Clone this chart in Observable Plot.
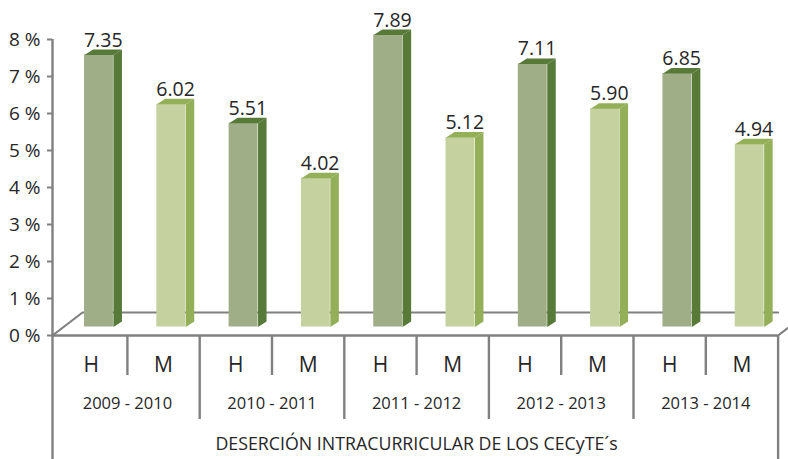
<!DOCTYPE html>
<html><head><meta charset="utf-8">
<script src="https://cdn.jsdelivr.net/npm/d3@7"></script>
<script src="https://cdn.jsdelivr.net/npm/@observablehq/plot@0.6"></script>
<style>html,body{margin:0;padding:0;background:#fff;overflow:hidden}</style>
</head><body><div id="chart"></div>
<script>
// ---- data ----
const years = ["2009 - 2010", "2010 - 2011", "2011 - 2012", "2012 - 2013", "2013 - 2014"];
const sexes = ["H", "M"];
const hombres = [7.35, 5.51, 7.89, 7.11, 6.85];
const mujeres = [6.02, 4.02, 5.12, 5.90, 4.94];
const yTicks = [0, 1, 2, 3, 4, 5, 6, 7, 8];
const yTickLabels = ["0 %", "1 %", "2 %", "3 %", "4 %", "5 %", "6 %", "7 %", "8 %"];
const axisTitle = "DESERCIÓN INTRACURRICULAR DE LOS CECyTE´s";

// ---- style / layout ----
const colors = {
  H: {front: "#9fae87", side: "#587a39"},
  M: {front: "#c5d2a0", side: "#93af57"}
};
const axisColor = "#808080";
const textColor = "#262626";
const xRange = [54.6, 777.6], yRange = [335, 39];
const pxPerX = (xRange[1] - xRange[0]) / 10;
const pxPerY = (yRange[0] - yRange[1]) / 8;
const px = p => p / pxPerX, py = p => p / pxPerY;
const FACE_L = 0.407, FACE_R = 0.807;
const DX = px(8.5), DY = py(5.5), BASE = py(8.5);
const AXIS_X = px(-2.6);
const FLOOR_DX = px(30), FLOOR_DY = py(23);

const bars = years.flatMap((yr, j) => sexes.map((s, k) => {
  const value = (k ? mujeres : hombres)[j];
  const slot = 2 * j + k;
  return {year: yr, sex: s, slot, value, xl: slot + FACE_L, xr: slot + FACE_R, bot: BASE, top: BASE + value};
}));

function polys(sex, kind) {
  const out = [];
  bars.filter(b => b.sex === sex).forEach(b => {
    const pts = kind === "side"
      ? [[b.xr, b.bot], [b.xr, b.top], [b.xr + DX, b.top + DY], [b.xr + DX, b.bot + DY]]
      : [[b.xl, b.top], [b.xl + DX, b.top + DY], [b.xr + DX, b.top + DY], [b.xr, b.top]];
    pts.forEach(([x, y]) => out.push({id: b.slot + kind, x, y}));
  });
  return out;
}

const floorBack = [
  {x: AXIS_X, y: 0}, {x: AXIS_X + FLOOR_DX, y: FLOOR_DY}, {x: 10, y: FLOOR_DY}
];
const floorRight = [{x: 10, y: 0}, {x: 10 + FLOOR_DX, y: FLOOR_DY}];
const BOTTOM = py(-124);
const seps = d3.range(1, 10).map(i => ({x: i, y2: i % 2 ? py(-40) : py(-84)}));

const marks = [
  // floor
  Plot.line(floorBack, {x: "x", y: "y", stroke: axisColor, strokeWidth: 2.2}),
  Plot.line(floorRight, {x: "x", y: "y", stroke: axisColor, strokeWidth: 2.2}),
  Plot.ruleY([0], {x1: () => AXIS_X, x2: () => 10, stroke: axisColor, strokeWidth: 2.4}),
  // y axis
  Plot.ruleX([AXIS_X], {y1: () => BOTTOM, y2: () => 8, stroke: axisColor, strokeWidth: 2.4}),
  Plot.ruleX([10], {y1: () => BOTTOM, y2: () => 0, stroke: axisColor, strokeWidth: 2.4}),
  Plot.ruleY(yTicks, {x1: () => AXIS_X - px(5), x2: () => AXIS_X, y: d => d, stroke: axisColor, strokeWidth: 2}),
  Plot.text(yTicks, {x: () => AXIS_X, y: d => d, text: (d, i) => yTickLabels[i], textAnchor: "end", dx: -12, fill: textColor, fontSize: 19}),
  // category separators
  Plot.ruleX(seps, {x: "x", y1: () => 0, y2: "y2", stroke: axisColor, strokeWidth: 2.4}),
  Plot.text(bars, {x: d => d.slot + 0.5, y: () => py(-30), text: "sex", fill: textColor, fontSize: 21}),
  Plot.text(years, {x: (d, i) => 2 * i + 1, y: () => py(-68), text: d => d, fill: textColor, fontSize: 16.5}),
  Plot.text([axisTitle], {x: () => 5, y: () => py(-109), text: d => d, fill: textColor, fontSize: 17.8}),
];
for (const s of sexes) {
  marks.push(
    Plot.rect(bars.filter(b => b.sex === s), {x1: "xl", x2: "xr", y1: "bot", y2: "top", fill: colors[s].front}),
    Plot.line(polys(s, "side"), {x: "x", y: "y", z: "id", fill: colors[s].side, stroke: "none"}),
    Plot.line(polys(s, "top"), {x: "x", y: "y", z: "id", fill: colors[s].side, stroke: "none"})
  );
}
marks.push(
  Plot.text(bars, {x: d => (d.xl + d.xr + DX) / 2, y: d => d.top + DY, text: d => d.value.toFixed(2),
    lineAnchor: "bottom", dy: -3, fill: textColor, fontSize: 19.5})
);

const chart = Plot.plot({
  width: 788, height: 459, margin: 0,
  x: {type: "linear", domain: [0, 10], range: xRange, axis: null},
  y: {type: "linear", domain: [0, 8], range: yRange, axis: null},
  style: {fontFamily: "'Open Sans', sans-serif", fontSize: "17px", color: textColor, background: "#fff", overflow: "hidden"},
  marks
});
document.getElementById("chart").append(chart);
</script>
</body></html>
